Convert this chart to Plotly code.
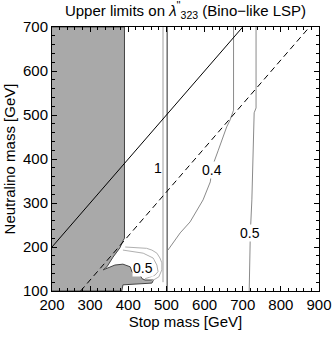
import plotly.graph_objects as go

# ---- data (GeV) ----
excl_x = [200, 390, 390, 386, 378, 360, 344, 334, 365, 386, 405, 410, 431, 436, 444, 466, 462, 386, 383, 200]
excl_y = [700, 700, 220, 214, 198, 177, 155, 148, 159, 161, 155, 143, 136, 128, 125, 125, 118, 114, 100, 100]

diag_x = [200, 700]          # m_chi = m_stop
diag_y = [200, 700]
top_x = [275, 875]           # m_chi = m_stop - m_top
top_y = [100, 700]

c1a_x = [491, 491]
c1a_y = [700, 120]
c1b_x = [502, 502]
c1b_y = [700, 100]

c04_x = [676, 676, 667, 658, 636, 620, 615, 596, 562, 536, 504]
c04_y = [700, 511, 489, 473, 420, 382, 348, 307, 257, 232, 193]

c05_x = [735, 735, 730, 728, 724, 720, 717]
c05_y = [700, 516, 505, 420, 307, 232, 100]

loop_out_x = [392, 448, 462, 475, 483, 488, 488, 480, 460, 440, 436]
loop_out_y = [200, 197, 193, 186, 175, 164, 148, 132, 122, 120, 125]
loop_in_x = [386, 439, 465, 475, 478, 470, 455, 444]
loop_in_y = [193, 186, 175, 159, 144, 136, 131, 128]

labels_text = ["1", "0.4", "0.5", "0.5"]
labels_x = [478, 620, 718, 439]
labels_y = [380, 375, 232, 152]

x_ticks = [200, 300, 400, 500, 600, 700, 800, 900]
y_ticks = [100, 200, 300, 400, 500, 600, 700]

FONT = "Liberation Sans, Arial, sans-serif"

fig = go.Figure()
fig.add_trace(go.Scatter(x=excl_x, y=excl_y, fill="toself", fillcolor="#a9a9a9",
                         line=dict(color="#444444", width=1), mode="lines", hoverinfo="skip"))
fig.add_trace(go.Scatter(x=c1a_x, y=c1a_y, mode="lines", line=dict(color="#a0a0a0", width=1)))
fig.add_trace(go.Scatter(x=c1b_x, y=c1b_y, mode="lines", line=dict(color="#707070", width=1.5)))
fig.add_trace(go.Scatter(x=c04_x, y=c04_y, mode="lines", line=dict(color="#8a8a8a", width=1)))
fig.add_trace(go.Scatter(x=c05_x, y=c05_y, mode="lines", line=dict(color="#8a8a8a", width=1)))
fig.add_trace(go.Scatter(x=loop_out_x, y=loop_out_y, mode="lines", line=dict(color="#b0b0b0", width=1)))
fig.add_trace(go.Scatter(x=loop_in_x, y=loop_in_y, mode="lines", line=dict(color="#b0b0b0", width=1)))
fig.add_trace(go.Scatter(x=diag_x, y=diag_y, mode="lines", line=dict(color="black", width=1)))
fig.add_trace(go.Scatter(x=top_x, y=top_y, mode="lines", line=dict(color="black", width=1, dash="6px,4px")))

for t, x, y in zip(labels_text, labels_x, labels_y):
    fig.add_annotation(x=x, y=y, text=t, showarrow=False,
                       bgcolor="white" if t != "1" else "rgba(255,255,255,0)",
                       font=dict(family=FONT, size=14, color="black"), borderpad=0)

axis_common = dict(showgrid=False, zeroline=False, showline=True, linecolor="black", linewidth=1,
                   mirror="ticks", ticks="inside", ticklen=5, tickcolor="black", automargin=False,
                   tickfont=dict(family=FONT, size=15, color="black"))
fig.update_xaxes(range=[200, 900], tickvals=x_ticks,
                 minor=dict(dtick=20, ticks="inside", ticklen=3, tickcolor="black"),
                 title=dict(text="Stop mass [GeV]", font=dict(family=FONT, size=15, color="black"), standoff=3),
                 **axis_common)
fig.update_yaxes(range=[100, 700], tickvals=y_ticks,
                 minor=dict(dtick=20, ticks="inside", ticklen=3, tickcolor="black"),
                 title=dict(text="Neutralino mass [GeV]", font=dict(family=FONT, size=15, color="black"), standoff=3),
                 **axis_common)
fig.update_layout(
    width=332, height=339,
    margin=dict(l=52, r=13, t=27, b=48),
    plot_bgcolor="white", paper_bgcolor="white",
    showlegend=False,
    title=dict(text="Upper limits on <i>λ</i><sup>''</sup><sub>323</sub> (Bino−like LSP)",
               x=0.5, xref="paper", y=0.985, yanchor="top",
               font=dict(family=FONT, size=15, color="black")),
)
fig.write_html("out.html", config={"displayModeBar": False},
               post_script="document.body.style.margin='0';document.body.style.padding='0';")
